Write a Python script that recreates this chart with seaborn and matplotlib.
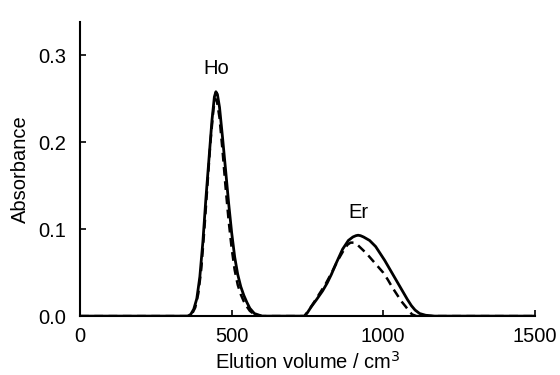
import matplotlib
matplotlib.use("Agg")
import matplotlib.pyplot as plt
import seaborn as sns
import pandas as pd

# Elution profiles (volume in cm3, absorbance)
ho_solid_x = [0, 355, 365, 375, 385, 395, 405, 415, 425, 435, 443, 448, 453, 460, 470,
              480, 490, 500, 510, 520, 530, 540, 550, 560, 575, 600]
ho_solid_y = [0.0, 0.0, 0.002, 0.008, 0.020, 0.045, 0.085, 0.135, 0.180, 0.225, 0.252, 0.258,
              0.255, 0.240, 0.205, 0.168, 0.130, 0.096, 0.068, 0.048, 0.034, 0.024, 0.016,
              0.009, 0.003, 0.0]

ho_dash_x = [0, 360, 370, 380, 390, 400, 410, 420, 430, 440, 446, 452, 460, 470, 480,
             490, 500, 510, 520, 530, 540, 550, 560, 575, 600]
ho_dash_y = [0.0, 0.0, 0.003, 0.010, 0.026, 0.055, 0.100, 0.150, 0.200, 0.238, 0.250, 0.246,
             0.228, 0.190, 0.148, 0.110, 0.078, 0.053, 0.036, 0.025, 0.017, 0.011, 0.006,
             0.002, 0.0]

er_solid_x = [600, 740, 750, 763, 780, 800, 815, 829, 845, 866, 885, 900, 910, 917, 925,
              935, 955, 975, 990, 1005, 1020, 1035, 1050, 1065, 1080, 1093, 1105, 1120,
              1140, 1170, 1500]
er_solid_y = [0.0, 0.0, 0.004, 0.011, 0.019, 0.029, 0.038, 0.048, 0.061, 0.077, 0.087, 0.091,
              0.0925, 0.093, 0.0925, 0.091, 0.087, 0.080, 0.072, 0.064, 0.055, 0.046, 0.037,
              0.028, 0.019, 0.012, 0.007, 0.003, 0.001, 0.0, 0.0]

er_dash_x = [600, 740, 755, 770, 790, 810, 830, 850, 870, 882, 892, 902, 915, 930, 945,
             960, 980, 1000, 1015, 1030, 1045, 1060, 1074, 1085, 1095, 1110, 1500]
er_dash_y = [0.0, 0.0, 0.007, 0.015, 0.026, 0.037, 0.050, 0.064, 0.076, 0.0820, 0.0845,
             0.0845, 0.082, 0.077, 0.072, 0.066, 0.058, 0.050, 0.042, 0.033, 0.025, 0.017,
             0.011, 0.006, 0.002, 0.0, 0.0]

peak_labels = ["Ho", "Er"]
peak_label_x = [450, 917]
peak_label_y = [0.285, 0.119]

x_ticks = [0, 500, 1000, 1500]
y_ticks = [0.0, 0.1, 0.2, 0.3]

solid = pd.DataFrame({"volume": ho_solid_x + er_solid_x, "absorbance": ho_solid_y + er_solid_y})
dashed = pd.DataFrame({"volume": ho_dash_x + er_dash_x, "absorbance": ho_dash_y + er_dash_y})

sns.set_style("ticks")
plt.rcParams["font.family"] = ["Liberation Sans", "DejaVu Sans"]
plt.rcParams["text.color"] = "black"
plt.rcParams["axes.labelcolor"] = "black"
fs = 14.5

fig = plt.figure(figsize=(5.6, 3.75), dpi=100)
ax = fig.add_axes([0.143, 0.157, 0.812, 0.784])

sns.lineplot(data=solid, x="volume", y="absorbance", ax=ax, color="black",
             linewidth=2.0, sort=False, estimator=None)
sns.lineplot(data=dashed, x="volume", y="absorbance", ax=ax, color="black",
             linewidth=1.8, linestyle=(0, (3.5, 2.2)), sort=False, estimator=None)

for lab, lx, ly in zip(peak_labels, peak_label_x, peak_label_y):
    ax.text(lx, ly, lab, ha="center", va="center", fontsize=fs, color="black")

ax.set_xlim(0, 1500)
ax.set_ylim(0, 0.338)
ax.set_xticks(x_ticks)
ax.set_xticklabels([str(t) for t in x_ticks])
ax.set_yticks(y_ticks)
ax.set_yticklabels([f"{t:.1f}" for t in y_ticks])
ax.tick_params(direction="in", length=4, width=1.2, labelsize=fs, colors="black")
ax.tick_params(axis="x", pad=8)
ax.tick_params(axis="y", pad=10)
ax.set_xlabel("Elution volume / cm$^3$", fontsize=fs, labelpad=3, color="black")
ax.set_ylabel("Absorbance", fontsize=fs, labelpad=6, color="black")
for side in ["top", "right"]:
    ax.spines[side].set_visible(False)
for side in ["left", "bottom"]:
    ax.spines[side].set_linewidth(1.5)
    ax.spines[side].set_color("black")

fig.savefig("out.png", dpi=100)
